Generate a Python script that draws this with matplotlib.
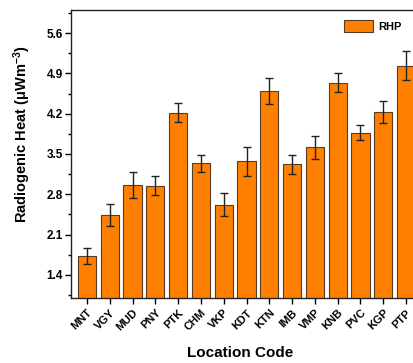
import matplotlib
matplotlib.use("Agg")
import matplotlib.pyplot as plt
from matplotlib.ticker import MultipleLocator

plt.rcParams['font.family'] = ['Liberation Sans', 'DejaVu Sans']
plt.rcParams['mathtext.fontset'] = 'custom'
plt.rcParams['mathtext.rm'] = 'Liberation Sans'

locations = ["MNT", "VGY", "MUD", "PNY", "PTK", "CHM", "VKP", "KDT", "KTN",
             "IMB", "VMP", "KNB", "PVC", "KGP", "PTP"]
rhp = [1.73, 2.44, 2.96, 2.95, 4.22, 3.34, 2.62, 3.37, 4.59,
       3.32, 3.62, 4.74, 3.87, 4.23, 5.03]
rhp_err = [0.14, 0.19, 0.23, 0.17, 0.16, 0.15, 0.20, 0.26, 0.23,
           0.16, 0.20, 0.17, 0.13, 0.19, 0.25]
yticks = [1.4, 2.1, 2.8, 3.5, 4.2, 4.9, 5.6]

fig = plt.figure(figsize=(4.14, 3.63), dpi=100)
ax = fig.add_axes([71/414, 1-298/363, (422-71)/414, (298-10)/363])

x = list(range(len(locations)))
ax.bar(x, rhp, width=0.8, color='#FF8000', edgecolor='#5a3a20', linewidth=0.8,
       label='RHP', zorder=2)
ax.errorbar(x, rhp, yerr=rhp_err, fmt='none', ecolor='#222222', elinewidth=1.0,
            capsize=3, capthick=1.0, zorder=3)

ax.set_xlim(-0.7, 14.7)
ax.set_ylim(1.0, 6.0)
ax.set_yticks(yticks)
ax.yaxis.set_minor_locator(MultipleLocator(0.35))
ax.set_yticklabels([f"{v:.1f}" for v in yticks], fontsize=8.5, fontweight='bold')
ax.set_xticks(x)
ax.set_xticklabels(locations, rotation=45, ha='right', rotation_mode='anchor',
                   fontsize=8, fontweight='bold')
ax.tick_params(axis='both', which='major', length=4, width=1.0, direction='out')
ax.tick_params(axis='y', which='minor', length=2.5, width=1.0, direction='out')
ax.tick_params(axis='y', pad=2)
ax.tick_params(axis='x', pad=3)

for s in ['left', 'bottom', 'top']:
    ax.spines[s].set_linewidth(1.0)
    ax.spines[s].set_color('#222222')
ax.spines['right'].set_visible(False)

ax.set_xlabel('Location Code', fontsize=11, fontweight='bold', labelpad=6)
ax.xaxis.set_label_coords((240-71)/351, -0.165)
ax.set_ylabel(r'Radiogenic Heat $\mathregular{(μWm^{-3})}$', fontsize=10.5,
              fontweight='bold')
ax.yaxis.set_label_coords((33-71)/351, (298-134)/288)

handles, labels = ax.get_legend_handles_labels()
fig.legend(handles=handles, labels=labels,
           loc='upper left', bbox_to_anchor=(336/414, 1-12/363), frameon=False,
           prop={'weight': 'bold', 'size': 8}, handlelength=2.6, handleheight=1.3,
           handletextpad=0.5, borderpad=0.2)

fig.savefig('out.png', dpi=100)
